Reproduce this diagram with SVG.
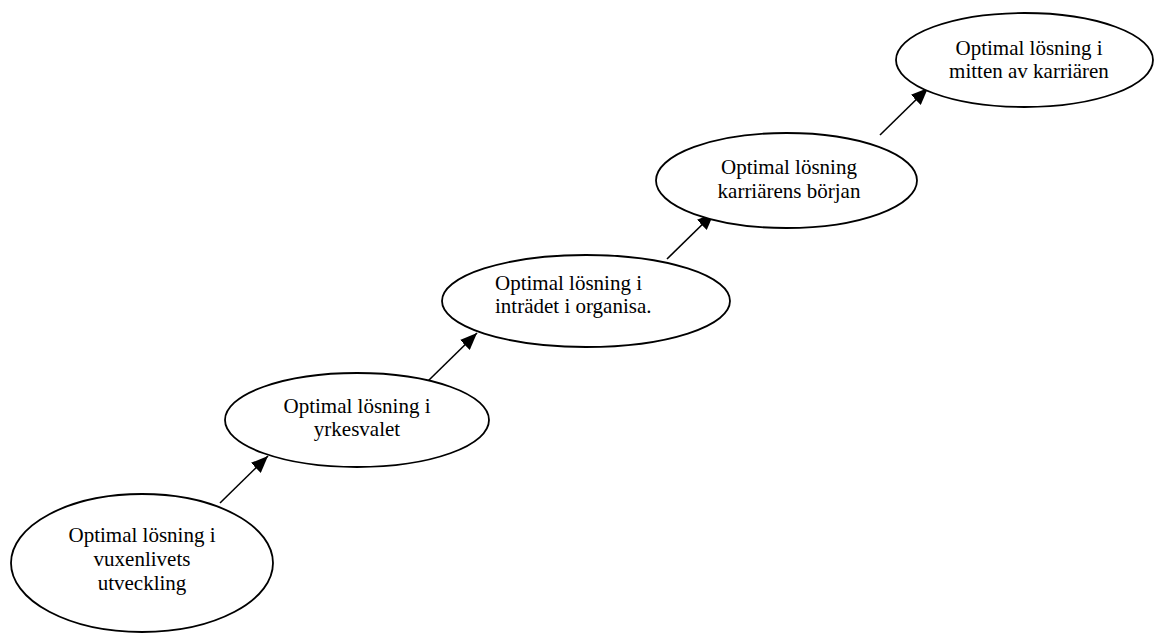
<svg xmlns="http://www.w3.org/2000/svg" width="1154" height="633" viewBox="0 0 1154 633">
  <style>
    .node ellipse { fill: #ffffff; stroke: #000000; stroke-width: 1.8; }
    .node text { font-family: "Liberation Serif", "Times New Roman", serif; font-size: 21px; fill: #000000; }
    .c { text-anchor: middle; }
    .edge { stroke: #000000; stroke-width: 1.6; fill: none; marker-end: url(#arrow); }
  </style>
  <defs>
    <marker id="arrow" markerUnits="userSpaceOnUse" markerWidth="18" markerHeight="14" refX="17" refY="7" orient="auto">
      <path d="M0,0 L17,7 L0,14 Z" fill="#000000"/>
    </marker>
  </defs>
  <rect width="1154" height="633" fill="#ffffff"/>

  <g id="connectors">
    <line class="edge" x1="220" y1="503" x2="268" y2="456"/>
    <line class="edge" x1="428" y1="381" x2="477" y2="333"/>
    <line class="edge" x1="667" y1="259" x2="714" y2="213"/>
    <line class="edge" x1="880" y1="135" x2="928" y2="88"/>
  </g>

  <g id="node-vuxenliv" class="node">
    <ellipse cx="142" cy="563" rx="131" ry="69"/>
    <text class="c" x="142" y="542">Optimal lösning i</text>
    <text class="c" x="142" y="566">vuxenlivets</text>
    <text class="c" x="142" y="590">utveckling</text>
  </g>

  <g id="node-yrkesval" class="node">
    <ellipse cx="357" cy="420" rx="132" ry="47"/>
    <text class="c" x="357" y="413">Optimal lösning i</text>
    <text class="c" x="357" y="436">yrkesvalet</text>
  </g>

  <g id="node-intrade" class="node">
    <ellipse cx="586" cy="301" rx="144" ry="46"/>
    <text x="495" y="290">Optimal lösning i</text>
    <text x="495" y="313">inträdet i organisa.</text>
  </g>

  <g id="node-karriarstart" class="node">
    <ellipse cx="786.5" cy="180.5" rx="130.5" ry="47.5"/>
    <text class="c" x="789" y="174">Optimal lösning</text>
    <text class="c" x="789" y="198">karriärens början</text>
  </g>

  <g id="node-karriarmitt" class="node">
    <ellipse cx="1024.5" cy="60" rx="128.5" ry="47"/>
    <text class="c" x="1029" y="55">Optimal lösning i</text>
    <text class="c" x="1029" y="78">mitten av karriären</text>
  </g>
</svg>
